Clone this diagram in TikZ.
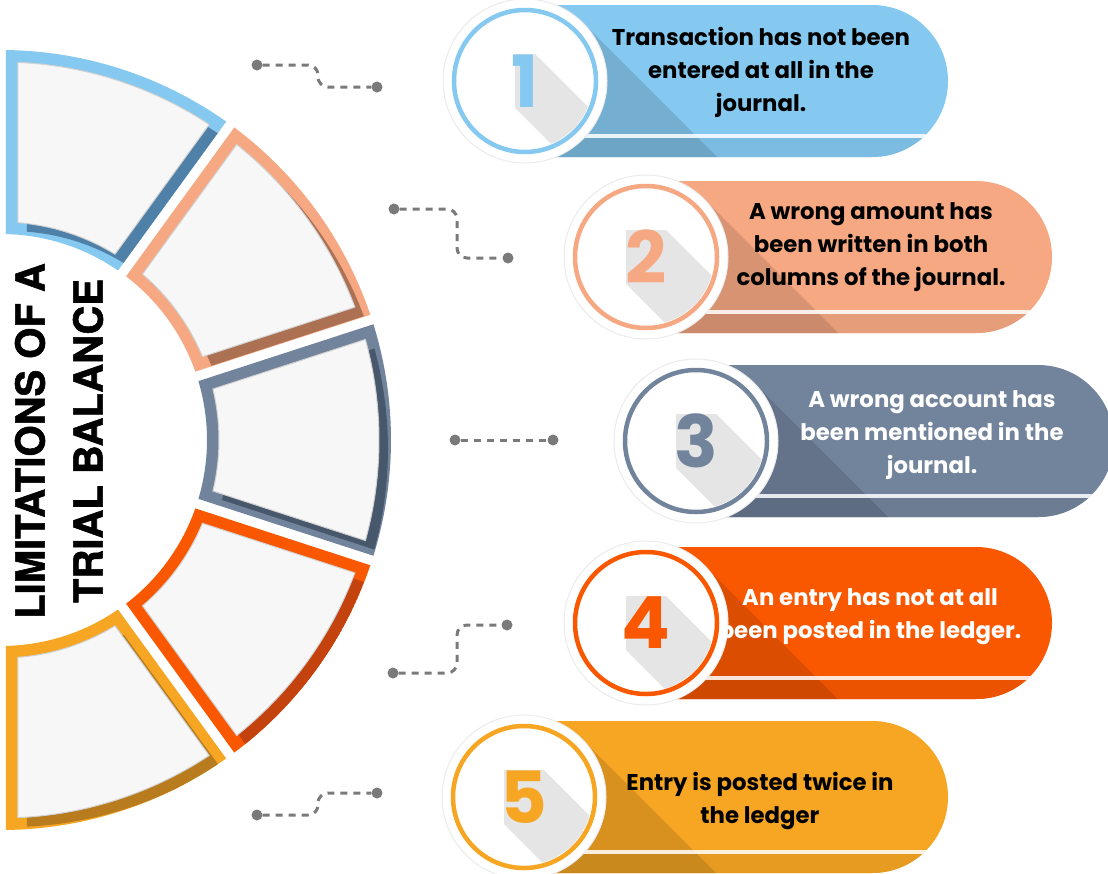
\documentclass[tikz,border=0pt]{standalone}
\usepackage{fontspec}
\setmainfont{Poppins}
\newfontfamily\titlefont{TeX Gyre Heros}[BoldFeatures={FakeBold=1.5}]
\usetikzlibrary{positioning}

\definecolor{blueL}{RGB}{133,200,240}
\definecolor{blueD}{RGB}{78,128,168}
\definecolor{salmonL}{RGB}{245,168,130}
\definecolor{salmonD}{RGB}{172,112,82}
\definecolor{slateL}{RGB}{114,132,156}
\definecolor{slateD}{RGB}{72,88,108}
\definecolor{redL}{RGB}{250,88,0}
\definecolor{redD}{RGB}{196,66,14}
\definecolor{amberL}{RGB}{246,166,35}
\definecolor{amberD}{RGB}{184,124,30}
\definecolor{linkgray}{RGB}{122,122,122}

\begin{document}
\begin{tikzpicture}[%
		x=1pt, y=-1pt,
		dot/.style={
			circle,
			fill=linkgray,
			inner sep=0pt,
			minimum size=11pt
		},
		link/.style={
			linkgray,
			line width=3pt,
			dash pattern=on 7pt off 6pt,
			rounded corners=10pt
		},
		halo/.style={
			circle,
			fill=white,
			draw=black!8,
			line width=1pt,
			inner sep=0pt,
			minimum size=164pt
		},
		ring/.style={
			circle,
			fill=white,
			draw=#1,
			line width=4.5pt,
			inner sep=0pt,
			minimum size=142pt
		},
		digit/.style={
			text=#1,
			inner sep=0pt,
			font=\fontsize{72}{72}\selectfont\bfseries
		},
		numshadow/.style={
			fill=black!10
		},
		longshadow/.style={
			fill=black,
			fill opacity=0.12
		},
		stripe/.style={
			draw=white,
			line width=3.5pt,
			opacity=0.85
		},
		panel/.style={
			fill=white!94!gray,
			draw=black!18,
			line width=1pt
		},
		itemtext/.style={
			text=#1,
			align=center,
			font=\fontsize{22.8}{33}\selectfont\bfseries
		},
		headline/.style={
			rotate=90,
			align=center,
			font=\titlefont\bfseries\fontsize{40}{58}\selectfont
		}]

		\useasboundingbox (0,0) rectangle (1108,873);

		% RING

		\begin{scope}[shift={(1,440)}]
			\foreach \i/\cl/\cd in {1/blueL/blueD, 2/salmonL/salmonD, 3/slateL/slateD, 4/redL/redD, 5/amberL/amberD}{
				\pgfmathsetmacro\a{-90+36*(\i-1)}
				\pgfmathsetmacro\b{-90+36*\i}
				\pgfmathsetmacro\ao{\a+asin(5/390)}
				\pgfmathsetmacro\bo{\b-asin(5/390)}
				\pgfmathsetmacro\ai{\a+asin(5/206)}
				\pgfmathsetmacro\bi{\b-asin(5/206)}
				\pgfmathsetmacro\pao{\a+asin(17/378)}
				\pgfmathsetmacro\pbo{\b-asin(17/378)}
				\pgfmathsetmacro\pai{\a+asin(17/218)}
				\pgfmathsetmacro\pbi{\b-asin(17/218)}
				\begin{scope}
					\clip (\ao:390) arc[start angle=\ao, end angle=\bo, radius=390] -- (\bi:206) arc[start angle=\bi, end angle=\ai, radius=206] -- cycle;
					\fill[\cl] (-10,-400) rectangle (400,400);
					\fill[\cd, shift={(9,9)}] (\pao:378) arc[start angle=\pao, end angle=\pbo, radius=378] -- (\pbi:218) arc[start angle=\pbi, end angle=\pai, radius=218] -- cycle;
					\path[panel] (\pao:378) arc[start angle=\pao, end angle=\pbo, radius=378] -- (\pbi:218) arc[start angle=\pbi, end angle=\pai, radius=218] -- cycle;
				\end{scope}
			}
		\end{scope}

		\node (title) [headline] at (59,441) {LIMITATIONS OF A\\TRIAL BALANCE};

		% LINKS

		\node (l1a) [dot] at (257,65) {};
		\node (l1b) [dot] at (377,87) {};
		\node (l2a) [dot] at (394,209) {};
		\node (l2b) [dot] at (508,258) {};
		\node (l3a) [dot] at (455,440) {};
		\node (l3b) [dot] at (553,440) {};
		\node (l4a) [dot] at (393,673) {};
		\node (l4b) [dot] at (507,625) {};
		\node (l5a) [dot] at (257,815) {};
		\node (l5b) [dot] at (377,793) {};

		\draw[link] (l1a) -- ++(61,0) |- (l1b);
		\draw[link] (l2a) -- ++(63,0) |- (l2b);
		\draw[link] (l3a) -- (l3b);
		\draw[link] (l4a) -- ++(64,0) |- (l4b);
		\draw[link] (l5a) -- ++(61,0) |- (l5b);

		% BANNER 1

		\coordinate (c1) at (525,81);
		\begin{scope}
			\clip ([shift={(0,-76)}]c1) -- (872,5) arc[start angle=-90, end angle=90, radius=76] -- ([shift={(0,76)}]c1) -- cycle;
			\fill[blueL] ([shift={(0,-80)}]c1) rectangle ++(500,160);
			\fill[blueL!94!black] ([shift={(0,57)}]c1) rectangle ++(500,30);
			\fill[longshadow] ([shift={(58,-58)}]c1) -- ([shift={(258,142)}]c1) -- ([shift={(142,258)}]c1) -- ([shift={(-58,58)}]c1) -- cycle;
			\draw[stripe] ([shift={(0,55)}]c1) -- ++(500,0);
		\end{scope}
		\node (h1) [halo] at (c1) {};
		\node (r1) [ring=blueL] at (c1) {};
		\begin{scope}
			\clip (c1) circle[radius=68];
			\fill[numshadow] ([shift={(-10,-27)}]c1) -- ([shift={(10,-27)}]c1) -- ([shift={(110,73)}]c1) -- ([shift={(110,127)}]c1) -- ([shift={(90,127)}]c1) -- ([shift={(-10,27)}]c1) -- cycle;
		\end{scope}
		\node (d1) [digit=blueL] at (c1) {1};
		\node (t1) [itemtext=black] at (761,72) {Transaction has not been\\entered at all in the\\journal.};

		% BANNER 2

		\coordinate (c2) at (646,257);
		\begin{scope}
			\clip ([shift={(0,-76)}]c2) -- (976,181) arc[start angle=-90, end angle=90, radius=76] -- ([shift={(0,76)}]c2) -- cycle;
			\fill[salmonL] ([shift={(0,-80)}]c2) rectangle ++(500,160);
			\fill[salmonL!94!black] ([shift={(0,57)}]c2) rectangle ++(500,30);
			\fill[longshadow] ([shift={(58,-58)}]c2) -- ([shift={(258,142)}]c2) -- ([shift={(142,258)}]c2) -- ([shift={(-58,58)}]c2) -- cycle;
			\draw[stripe] ([shift={(0,55)}]c2) -- ++(500,0);
		\end{scope}
		\node (h2) [halo] at (c2) {};
		\node (r2) [ring=salmonL] at (c2) {};
		\begin{scope}
			\clip (c2) circle[radius=68];
			\fill[numshadow] ([shift={(-20,-27)}]c2) -- ([shift={(20,-27)}]c2) -- ([shift={(120,73)}]c2) -- ([shift={(120,127)}]c2) -- ([shift={(80,127)}]c2) -- ([shift={(-20,27)}]c2) -- cycle;
		\end{scope}
		\node (d2) [digit=salmonL] at (c2) {2};
		\node (t2) [itemtext=black] at (871,247) {A wrong amount has\\been written in both\\columns of the journal.};

		% BANNER 3

		\coordinate (c3) at (696,441);
		\begin{scope}
			\clip ([shift={(0,-76)}]c3) -- (1038,365) arc[start angle=-90, end angle=90, radius=76] -- ([shift={(0,76)}]c3) -- cycle;
			\fill[slateL] ([shift={(0,-80)}]c3) rectangle ++(500,160);
			\fill[slateL!94!black] ([shift={(0,57)}]c3) rectangle ++(500,30);
			\fill[longshadow] ([shift={(58,-58)}]c3) -- ([shift={(258,142)}]c3) -- ([shift={(142,258)}]c3) -- ([shift={(-58,58)}]c3) -- cycle;
			\draw[stripe] ([shift={(0,55)}]c3) -- ++(500,0);
		\end{scope}
		\node (h3) [halo] at (c3) {};
		\node (r3) [ring=slateL] at (c3) {};
		\begin{scope}
			\clip (c3) circle[radius=68];
			\fill[numshadow] ([shift={(-20,-27)}]c3) -- ([shift={(20,-27)}]c3) -- ([shift={(120,73)}]c3) -- ([shift={(120,127)}]c3) -- ([shift={(80,127)}]c3) -- ([shift={(-20,27)}]c3) -- cycle;
		\end{scope}
		\node (d3) [digit=slateL] at (c3) {3};
		\node (t3) [itemtext=white] at (932,435) {A wrong account has\\been mentioned in the\\journal.};

		% BANNER 4

		\coordinate (c4) at (646,623);
		\begin{scope}
			\clip ([shift={(0,-76)}]c4) -- (976,547) arc[start angle=-90, end angle=90, radius=76] -- ([shift={(0,76)}]c4) -- cycle;
			\fill[redL] ([shift={(0,-80)}]c4) rectangle ++(500,160);
			\fill[redL!94!black] ([shift={(0,57)}]c4) rectangle ++(500,30);
			\fill[longshadow] ([shift={(58,-58)}]c4) -- ([shift={(258,142)}]c4) -- ([shift={(142,258)}]c4) -- ([shift={(-58,58)}]c4) -- cycle;
			\draw[stripe] ([shift={(0,55)}]c4) -- ++(500,0);
		\end{scope}
		\node (h4) [halo] at (c4) {};
		\node (r4) [ring=redL] at (c4) {};
		\begin{scope}
			\clip (c4) circle[radius=68];
			\fill[numshadow] ([shift={(-20,-27)}]c4) -- ([shift={(20,-27)}]c4) -- ([shift={(120,73)}]c4) -- ([shift={(120,127)}]c4) -- ([shift={(80,127)}]c4) -- ([shift={(-20,27)}]c4) -- cycle;
		\end{scope}
		\node (d4) [digit=redL] at (c4) {4};
		\node (t4) [itemtext=white] at (870,617) {An entry has not at all\\been posted in the ledger.};

		% BANNER 5

		\coordinate (c5) at (524,797);
		\begin{scope}
			\clip ([shift={(0,-76)}]c5) -- (872,721) arc[start angle=-90, end angle=90, radius=76] -- ([shift={(0,76)}]c5) -- cycle;
			\fill[amberL] ([shift={(0,-80)}]c5) rectangle ++(500,160);
			\fill[amberL!94!black] ([shift={(0,57)}]c5) rectangle ++(500,30);
			\fill[longshadow] ([shift={(58,-58)}]c5) -- ([shift={(258,142)}]c5) -- ([shift={(142,258)}]c5) -- ([shift={(-58,58)}]c5) -- cycle;
			\draw[stripe] ([shift={(0,55)}]c5) -- ++(500,0);
		\end{scope}
		\node (h5) [halo] at (c5) {};
		\node (r5) [ring=amberL] at (c5) {};
		\begin{scope}
			\clip (c5) circle[radius=68];
			\fill[numshadow] ([shift={(-20,-27)}]c5) -- ([shift={(20,-27)}]c5) -- ([shift={(120,73)}]c5) -- ([shift={(120,127)}]c5) -- ([shift={(80,127)}]c5) -- ([shift={(-20,27)}]c5) -- cycle;
		\end{scope}
		\node (d5) [digit=amberL] at (c5) {5};
		\node (t5) [itemtext=black] at (760,801) {Entry is posted twice in\\the ledger};
\end{tikzpicture}
\end{document}
